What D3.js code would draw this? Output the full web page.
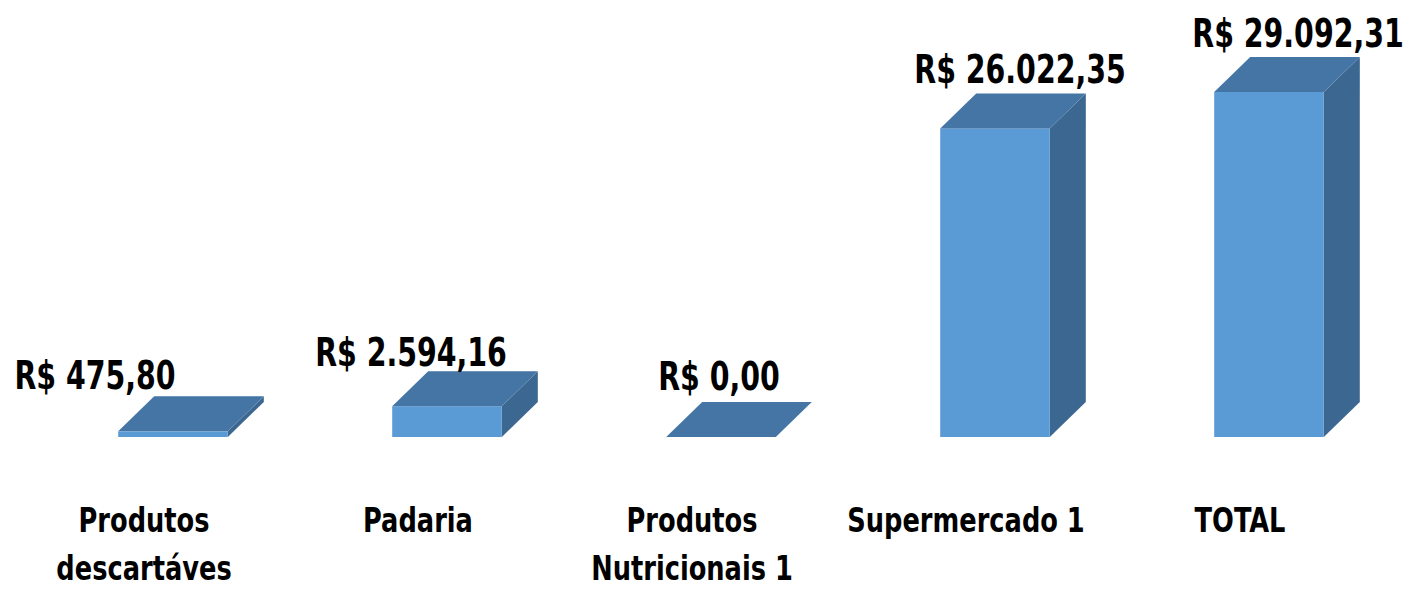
<!DOCTYPE html>
<html>
<head>
<meta charset="utf-8">
<script src="https://cdn.jsdelivr.net/npm/d3@7"></script>
<style>
  body { margin: 0; background: #fff; }
  svg text { font-family: "Liberation Sans Narrow", "DejaVu Sans Condensed", "Liberation Sans", sans-serif; font-weight: bold; fill: #000; }
</style>
</head>
<body>
<svg id="chart"></svg>
<script>
// data
const categories = [["Produtos", "descartáves"], ["Padaria"], ["Produtos", "Nutricionais 1"], ["Supermercado 1"], ["TOTAL"]];
const values = [475.80, 2594.16, 0.00, 26022.35, 29092.31];
const valueLabels = ["R$ 475,80", "R$ 2.594,16", "R$ 0,00", "R$ 26.022,35", "R$ 29.092,31"];

// label nudges (layout only, excel put them a bit off-center)
const labelDx = [-78, -36, -2, 25, 29];
const labelGap = [7, 5, 12, 10, 10];

const W = 1410, H = 590;
const depthX = 36, depthY = 35;
const baseY = 437;
const squeeze = 0.81; // no calibri here, so narrow the condensed font a bit

const svg = d3.select("#chart").attr("width", W).attr("height", H);

const x = d3.scaleBand()
    .domain(d3.range(values.length))
    .range([36, 1406])
    .paddingInner(0.6)
    .paddingOuter(0.3);

const y = d3.scaleLinear()
    .domain([0, d3.max(values)])
    .range([baseY, 92]);

const bw = x.bandwidth();

const bar = svg.selectAll(".bar")
    .data(values)
  .enter().append("g")
    .attr("class", "bar");

// side face
bar.append("path")
    .attr("fill", "#3b6791")
    .attr("d", (d, i) => {
      const x1 = x(i) + bw, yt = y(d);
      return `M${x1},${baseY} L${x1 + depthX},${baseY - depthY} L${x1 + depthX},${yt - depthY} L${x1},${yt} Z`;
    });

// front face
bar.append("rect")
    .attr("fill", "#5b9bd5")
    .attr("x", (d, i) => x(i))
    .attr("y", d => y(d))
    .attr("width", bw)
    .attr("height", d => Math.max(0, baseY - y(d)));

// top face
bar.append("path")
    .attr("fill", "#4575a5")
    .attr("d", (d, i) => {
      const x0 = x(i), yt = y(d);
      return `M${x0},${yt} L${x0 + depthX},${yt - depthY} L${x0 + bw + depthX},${yt - depthY} L${x0 + bw},${yt} Z`;
    });

// value labels
svg.selectAll(".val")
    .data(values)
  .enter().append("text")
    .attr("class", "val")
    .attr("text-anchor", "middle")
    .attr("font-size", 39)
    .attr("transform", (d, i) =>
      `translate(${x(i) + bw / 2 + labelDx[i]},${y(d) - depthY - labelGap[i]}) scale(${squeeze},1)`)
    .text((d, i) => valueLabels[i]);

// category labels
const cat = svg.selectAll(".cat")
    .data(categories)
  .enter().append("text")
    .attr("class", "cat")
    .attr("text-anchor", "middle")
    .attr("font-size", 34)
    .attr("transform", (d, i) => `translate(${x(i) + bw / 2 - 29},532) scale(0.84,1)`);

cat.selectAll("tspan")
    .data(d => d)
  .enter().append("tspan")
    .attr("x", 0)
    .attr("y", (d, j) => j * 48)
    .text(d => d);
</script>
</body>
</html>
